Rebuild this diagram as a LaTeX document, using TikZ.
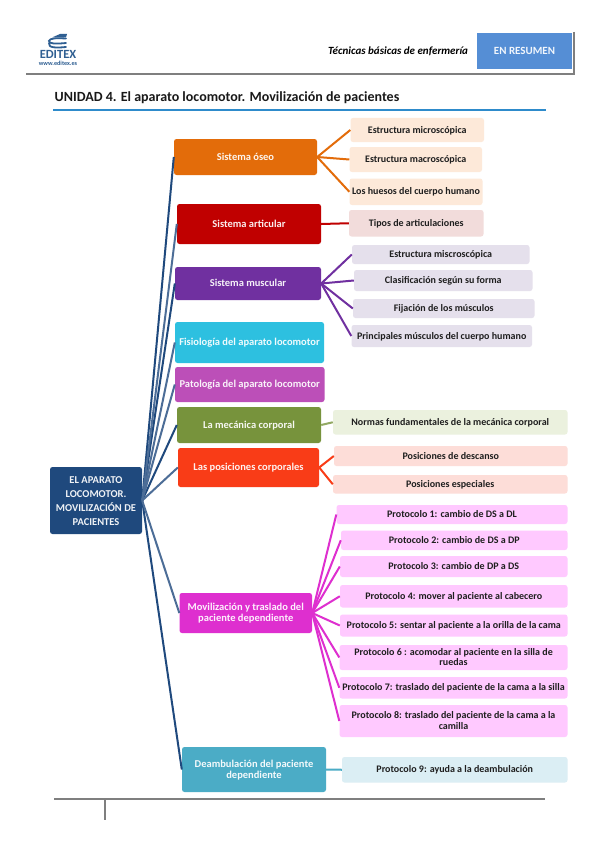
\documentclass[tikz,border=0pt]{standalone}
\usepackage{fontspec}
\setmainfont{Carlito}
\definecolor{cRoot}{HTML}{1F497D}
\definecolor{cOseo}{HTML}{E36C0A}
\definecolor{cArt}{HTML}{C00000}
\definecolor{cMus}{HTML}{7030A0}
\definecolor{cFis}{HTML}{2DC0E0}
\definecolor{cPat}{HTML}{BC4FB8}
\definecolor{cMec}{HTML}{77933C}
\definecolor{cPos}{HTML}{F93C17}
\definecolor{cMov}{HTML}{DE2FCF}
\definecolor{cDea}{HTML}{4BACC6}
\definecolor{lOseo}{HTML}{FDE9D9}
\definecolor{lArt}{HTML}{F2DCDB}
\definecolor{lMus}{HTML}{E5E0EC}
\definecolor{lMec}{HTML}{EBF1DE}
\definecolor{lPos}{HTML}{FDDDD8}
\definecolor{lMov}{HTML}{FFC9FF}
\definecolor{lDea}{HTML}{DBEEF4}
\definecolor{cHead}{HTML}{558ED5}
\definecolor{cRule}{HTML}{7F7F7F}
\definecolor{cBlue}{HTML}{2E8BCB}
\definecolor{cLogo}{HTML}{2F5F92}
\newcommand{\bx}[7]{%
  \pgfmathsetmacro{\bxw}{#4-#2}\pgfmathsetmacro{\bxh}{#5-#3}%
  \pgfmathsetmacro{\bxx}{(#4+#2)/2}\pgfmathsetmacro{\bxy}{(#5+#3)/2}%
  \node[#6,minimum width=\bxw pt,minimum height=\bxh pt] (#1) at (\bxx,\bxy)
    {\vbox{\kern2pt\hbox{\begin{tabular}{@{}c@{}}#7\end{tabular}}}};}
\tikzset{
  basebox/.style={rounded corners=2.5pt,inner sep=0pt},
  mainbox/.style={basebox,fill=#1,text=white!93!#1,font=\fontsize{10.5}{11}\selectfont\bfseries},
  leafbox/.style={basebox,fill=#1,text=black!88,font=\fontsize{10}{11}\selectfont\bfseries},
  rootline/.style={draw=cRoot,line width=2pt},
  rootlight/.style={draw=cRoot!80!white,line width=2pt},
  branch/.style={draw=#1,line width=2pt},
  rule/.style={draw=cRule,line width=2pt},
}
\begin{document}
\begin{tikzpicture}[x=1pt,y=-1pt]
\useasboundingbox[fill=white] (0,0) rectangle (599,848);
% header
\draw[rule] (26,74) -- (574,74);
\draw[rule] (573.5,32) -- (573.5,75);
\node[fill=cHead,minimum width=95pt,minimum height=36pt,inner sep=0pt,text=white!92!cHead,font=\fontsize{11}{12}\selectfont\bfseries] (resumen) at (524.5,51) {EN RESUMEN};
\node[inner sep=0pt,font=\fontsize{11}{12}\selectfont\bfseries\itshape] (libro) at (398,51) {Técnicas básicas de enfermería};
\node[inner sep=0pt,anchor=west,text=black!90,font=\fontsize{14}{16}\selectfont\bfseries] (unidad) at (54.5,97.5) {UNIDAD 4. El aparato locomotor. Movilización de pacientes};
\draw[draw=cBlue,line width=1.4pt] (53,110) -- (546,110);
% logo
\draw[cLogo,line width=1.8pt,line cap=round] (66,38.5) .. controls (56,38) and (50,38) .. (49,41) .. controls (49,44) and (56,44) .. (66,43);
\draw[cLogo,line width=1.8pt,line cap=round] (49,43) .. controls (48,48) and (56,48) .. (66,47);
\fill[cLogo] (52,37.5) -- (60,34) -- (67,34) -- (66,37.5) -- cycle;
\node[inner sep=0pt,text=cLogo,font=\fontsize{12.5}{13}\selectfont\bfseries] (editex) at (58,54.5) {EDITEX};
\node[inner sep=0pt,text=cLogo,font=\fontsize{6.2}{7}\selectfont\bfseries] (web) at (58,63.5) {www.editex.es};
% footer
\draw[rule] (54,798.5) -- (545,798.5);
\draw[rule] (105,798.5) -- (105,820);
% root
\bx{root}{50}{467}{142}{534}{mainbox=cRoot,font=\fontsize{10.5}{14}\selectfont\bfseries}{EL APARATO\\LOCOMOTOR.\\MOVILIZACIÓN DE\\PACIENTES}
% main branches
\bx{oseo}{174}{139}{317}{175}{mainbox=cOseo}{Sistema óseo}
\bx{art}{177}{204}{321}{244}{mainbox=cArt}{Sistema articular}
\bx{mus}{175}{267}{321}{300}{mainbox=cMus}{Sistema muscular}
\bx{fis}{175}{322}{324}{363}{mainbox=cFis}{Fisiología del aparato locomotor}
\bx{pat}{175}{367}{324.5}{402}{mainbox=cPat}{Patología del aparato locomotor}
\bx{mec}{177}{407}{321}{443}{mainbox=cMec}{La mecánica corporal}
\bx{pos}{178}{448}{319}{487}{mainbox=cPos}{Las posiciones corporales}
\bx{mov}{179.5}{593}{312}{633}{mainbox=cMov}{Movilización y traslado del\\paciente dependiente}
\bx{dea}{182}{747}{326}{792}{mainbox=cDea}{Deambulación del paciente\\dependiente}
% leaves
\bx{o1}{350.5}{118}{484}{142}{leafbox=lOseo}{Estructura microscópica}
\bx{o2}{349.5}{147}{482}{172}{leafbox=lOseo}{Estructura macroscópica}
\bx{o3}{349.5}{178.5}{482.5}{205}{leafbox=lOseo}{Los huesos del cuerpo humano}
\bx{a1}{349}{210}{483.5}{236.5}{leafbox=lArt}{Tipos de articulaciones}
\bx{m1}{352}{245}{529.5}{264}{leafbox=lMus}{Estructura miscroscópica}
\bx{m2}{354}{270}{532.5}{291}{leafbox=lMus}{Clasificación según su forma}
\bx{m3}{353}{299}{534.5}{318}{leafbox=lMus}{Fijación de los músculos}
\bx{m4}{351.5}{325}{532}{347}{leafbox=lMus}{Principales músculos del cuerpo humano}
\bx{c1}{333}{410}{567.5}{434.5}{leafbox=lMec}{Normas fundamentales de la mecánica corporal}
\bx{s1}{334}{446}{567.5}{466}{leafbox=lPos}{Posiciones de descanso}
\bx{s2}{333}{475}{567.5}{493.5}{leafbox=lPos}{Posiciones especiales}
\bx{p1}{336.5}{505}{567.5}{524}{leafbox=lMov}{Protocolo 1: cambio de DS a DL}
\bx{p2}{341}{530.5}{567.5}{550}{leafbox=lMov}{Protocolo 2: cambio de DS a DP}
\bx{p3}{340}{556}{567.5}{577}{leafbox=lMov}{Protocolo 3: cambio de DP a DS}
\bx{p4}{340}{585}{567.5}{607.5}{leafbox=lMov}{Protocolo 4: mover al paciente al cabecero}
\bx{p5}{340}{614.5}{567.5}{636.5}{leafbox=lMov}{Protocolo 5: sentar al paciente a la orilla de la cama}
\bx{p6}{339.5}{645}{567.5}{670}{leafbox=lMov,font=\fontsize{10}{10}\selectfont\bfseries}{Protocolo 6 : acomodar al paciente en la silla de\\ruedas}
\bx{p7}{339.5}{677}{567.5}{698.5}{leafbox=lMov}{Protocolo 7: traslado del paciente de la cama a la silla}
\bx{p8}{339.5}{705}{567.5}{737}{leafbox=lMov}{Protocolo 8: traslado del paciente de la cama a la\\camilla}
\bx{p9}{342}{757}{567.5}{782.5}{leafbox=lDea}{Protocolo 9: ayuda a la deambulación}
% connectors from root
\foreach \t in {oseo,mus,dea,mec} \draw[rootline] (root.east) -- (\t.west);
\foreach \t in {art,fis,pat,pos,mov} \draw[rootlight] (root.east) -- (\t.west);
% branch connectors
\foreach \t in {o1,o2,o3} \draw[branch=cOseo] (oseo.east) -- (\t.west);
\draw[branch=cArt] (art.east) -- (a1.west);
\foreach \t in {m1,m2,m3,m4} \draw[branch=cMus] (mus.east) -- (\t.west);
\draw[branch=cMec!80!white] (mec.east) -- (c1.west);
\foreach \t in {s1,s2} \draw[branch=cPos] (pos.east) -- (\t.west);
\foreach \t in {p1,p2,p3,p4,p5,p6,p7,p8} \draw[branch=cMov] (mov.east) -- (\t.west);
\draw[branch=cDea] (dea.east) -- (p9.west);
\end{tikzpicture}
\end{document}
